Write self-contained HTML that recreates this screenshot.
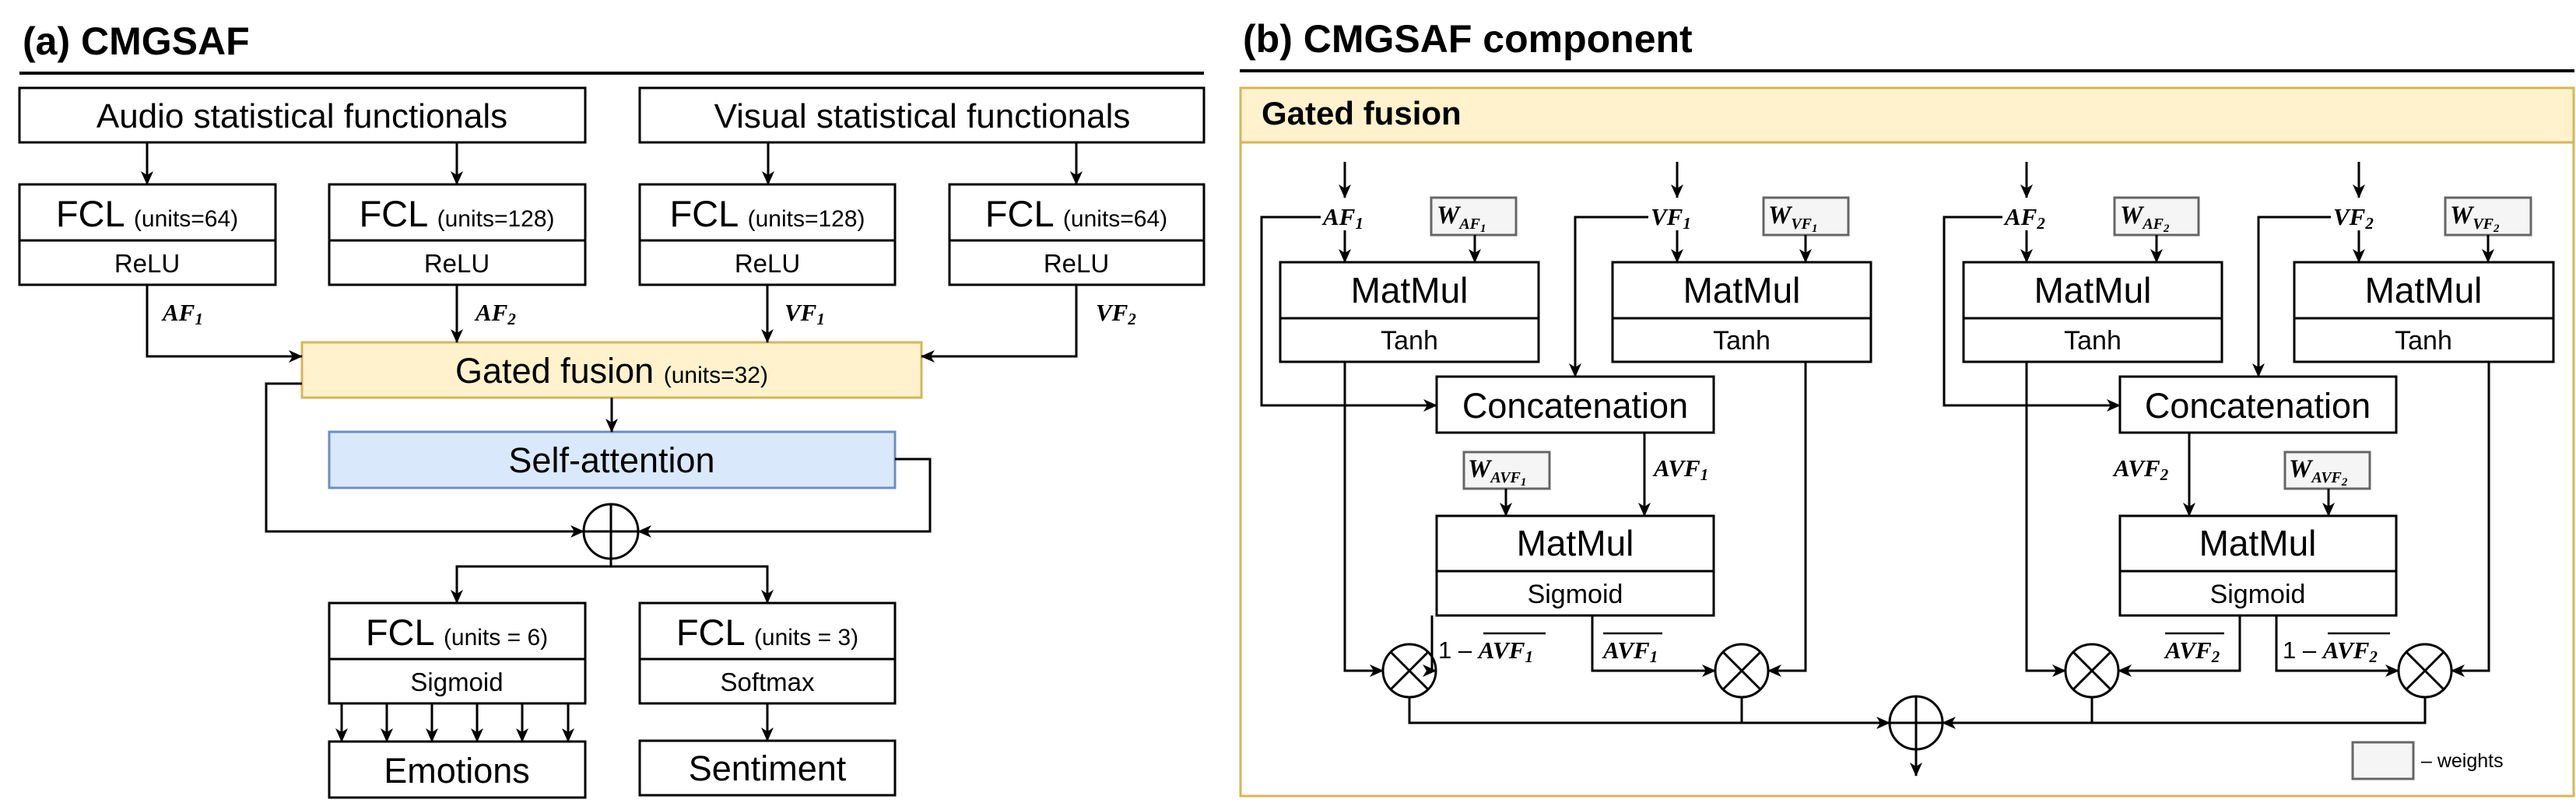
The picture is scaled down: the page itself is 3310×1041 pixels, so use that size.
<!DOCTYPE html>
<html><head><meta charset="utf-8"><style>
html,body{margin:0;padding:0;background:#fff;}
svg{display:block;}
text{font-family:"Liberation Sans",Arial,sans-serif;fill:#000;}
.m{font-family:"Liberation Serif",serif;font-style:italic;font-weight:bold;}
</style></head><body>
<svg width="3310" height="1041" viewBox="0 0 3310 1041" xmlns="http://www.w3.org/2000/svg">
<defs>
<marker id="a" markerWidth="18" markerHeight="16" refX="17" refY="8" orient="auto" markerUnits="userSpaceOnUse"><path d="M0,0 L18,8 L0,16 L5,8z" fill="#000"/></marker>
</defs>
<rect width="3310" height="1041" fill="#fff"/>

<!-- ===== Panel (a) ===== -->
<text x="29" y="70" font-size="50" font-weight="bold">(a) CMGSAF</text>
<line x1="25" y1="94" x2="1547" y2="94" stroke="#000" stroke-width="4"/>

<g fill="#fff" stroke="#000" stroke-width="3">
<rect x="25" y="113" width="727" height="70"/>
<rect x="822" y="113" width="725" height="70"/>
<rect x="25" y="237" width="329" height="129"/><line x1="25" y1="309" x2="354" y2="309"/>
<rect x="423" y="237" width="329" height="129"/><line x1="423" y1="309" x2="752" y2="309"/>
<rect x="822" y="237" width="328" height="129"/><line x1="822" y1="309" x2="1150" y2="309"/>
<rect x="1220" y="237" width="327" height="129"/><line x1="1220" y1="309" x2="1547" y2="309"/>
<rect x="388" y="440" width="796" height="71" fill="#fff2cc" stroke="#d6b656"/>
<rect x="423" y="555" width="727" height="72" fill="#dae8fc" stroke="#6c8ebf"/>
<rect x="423" y="775" width="329" height="129"/><line x1="423" y1="847" x2="752" y2="847"/>
<rect x="822" y="775" width="328" height="129"/><line x1="822" y1="847" x2="1150" y2="847"/>
<rect x="423" y="953" width="329" height="72"/>
<rect x="822" y="952" width="328" height="70"/>
</g>

<g text-anchor="middle">
<text x="388" y="164" font-size="44">Audio statistical functionals</text>
<text x="1185" y="164" font-size="44">Visual statistical functionals</text>
<text x="189" y="291" font-size="47">FCL <tspan font-size="30">(units=64)</tspan></text>
<text x="587" y="291" font-size="47">FCL <tspan font-size="30">(units=128)</tspan></text>
<text x="986" y="291" font-size="47">FCL <tspan font-size="30">(units=128)</tspan></text>
<text x="1383" y="291" font-size="47">FCL <tspan font-size="30">(units=64)</tspan></text>
<text x="189" y="350" font-size="33">ReLU</text>
<text x="587" y="350" font-size="33">ReLU</text>
<text x="986" y="350" font-size="33">ReLU</text>
<text x="1383" y="350" font-size="33">ReLU</text>
<text x="786" y="492" font-size="45">Gated fusion <tspan font-size="30">(units=32)</tspan></text>
<text x="786" y="607" font-size="45">Self-attention</text>
<text x="587" y="829" font-size="47">FCL <tspan font-size="30">(units = 6)</tspan></text>
<text x="986" y="829" font-size="47">FCL <tspan font-size="30">(units = 3)</tspan></text>
<text x="587" y="888" font-size="33">Sigmoid</text>
<text x="986" y="888" font-size="33">Softmax</text>
<text x="587" y="1006" font-size="45">Emotions</text>
<text x="986" y="1003" font-size="45">Sentiment</text>
</g>

<g>
<text class="m" x="209" y="412" font-size="31">AF<tspan font-size="21" dy="5">1</tspan></text>
<text class="m" x="611" y="412" font-size="31">AF<tspan font-size="21" dy="5">2</tspan></text>
<text class="m" x="1008" y="412" font-size="31">VF<tspan font-size="21" dy="5">1</tspan></text>
<text class="m" x="1408" y="412" font-size="31">VF<tspan font-size="21" dy="5">2</tspan></text>
</g>

<g fill="none" stroke="#000" stroke-width="3">
<path d="M189,183V237" marker-end="url(#a)"/>
<path d="M587,183V237" marker-end="url(#a)"/>
<path d="M987,183V237" marker-end="url(#a)"/>
<path d="M1383,183V237" marker-end="url(#a)"/>
<path d="M189,366V458H388" marker-end="url(#a)"/>
<path d="M587,366V440" marker-end="url(#a)"/>
<path d="M986,366V440" marker-end="url(#a)"/>
<path d="M1383,366V458H1184" marker-end="url(#a)"/>
<path d="M786,511V555" marker-end="url(#a)"/>
<path d="M388,493H342V683H750" marker-end="url(#a)"/>
<path d="M1150,590H1195V683H820" marker-end="url(#a)"/>
<circle cx="785" cy="683" r="35"/>
<path d="M785,648V718M750,683H820"/>
<path d="M785,718V728H587V775" marker-end="url(#a)"/>
<path d="M785,728H986V775" marker-end="url(#a)"/>
<path d="M439,904V953" marker-end="url(#a)"/>
<path d="M497,904V953" marker-end="url(#a)"/>
<path d="M555,904V953" marker-end="url(#a)"/>
<path d="M613,904V953" marker-end="url(#a)"/>
<path d="M671,904V953" marker-end="url(#a)"/>
<path d="M730,904V953" marker-end="url(#a)"/>
<path d="M986,904V952" marker-end="url(#a)"/>
</g>

<!-- ===== Panel (b) ===== -->
<text x="1597" y="67" font-size="50" font-weight="bold">(b) CMGSAF component</text>
<line x1="1593" y1="91" x2="3308" y2="91" stroke="#000" stroke-width="4"/>
<rect x="1594" y="113" width="1713" height="910" fill="#fff" stroke="#d6b656" stroke-width="3"/>
<rect x="1594" y="113" width="1713" height="70" fill="#fff2cc" stroke="#d6b656" stroke-width="3"/>
<text x="1621" y="160" font-size="42" font-weight="bold">Gated fusion</text>

<g fill="#fff" stroke="#000" stroke-width="3">
<rect x="1645" y="337" width="332" height="128"/><line x1="1645" y1="409" x2="1977" y2="409"/>
<rect x="2072" y="337" width="332" height="128"/><line x1="2072" y1="409" x2="2404" y2="409"/>
<rect x="1846" y="484" width="356" height="72"/>
<rect x="1846" y="663" width="356" height="128"/><line x1="1846" y1="734" x2="2202" y2="734"/>
<rect x="2523" y="337" width="332" height="128"/><line x1="2523" y1="409" x2="2855" y2="409"/>
<rect x="2948" y="337" width="333" height="128"/><line x1="2948" y1="409" x2="3281" y2="409"/>
<rect x="2724" y="484" width="355" height="72"/>
<rect x="2724" y="663" width="355" height="128"/><line x1="2724" y1="734" x2="3079" y2="734"/>
</g>
<g fill="#f5f5f5" stroke="#666" stroke-width="3">
<rect x="1839" y="254" width="109" height="48"/>
<rect x="2266" y="254" width="109" height="48"/>
<rect x="1881" y="581" width="110" height="47"/>
<rect x="2717" y="254" width="108" height="48"/>
<rect x="3142" y="254" width="110" height="48"/>
<rect x="2936" y="581" width="109" height="47"/>
<rect x="3023" y="954" width="78" height="47"/>
</g>

<g text-anchor="middle">
<text x="1811" y="389" font-size="46">MatMul</text>
<text x="2238" y="389" font-size="46">MatMul</text>
<text x="2689" y="389" font-size="46">MatMul</text>
<text x="3114" y="389" font-size="46">MatMul</text>
<text x="1811" y="449" font-size="34">Tanh</text>
<text x="2238" y="449" font-size="34">Tanh</text>
<text x="2689" y="449" font-size="34">Tanh</text>
<text x="3114" y="449" font-size="34">Tanh</text>
<text x="2024" y="537" font-size="45">Concatenation</text>
<text x="2901" y="537" font-size="45">Concatenation</text>
<text x="2024" y="714" font-size="46">MatMul</text>
<text x="2901" y="714" font-size="46">MatMul</text>
<text x="2024" y="775" font-size="34">Sigmoid</text>
<text x="2901" y="775" font-size="34">Sigmoid</text>
</g>
<text x="3111" y="986" font-size="25">– weights</text>

<g>
<text class="m" x="1700" y="289" font-size="31">AF<tspan font-size="21" dy="5">1</tspan></text>
<text class="m" x="2121" y="289" font-size="31">VF<tspan font-size="21" dy="5">1</tspan></text>
<text class="m" x="2576" y="289" font-size="31">AF<tspan font-size="21" dy="5">2</tspan></text>
<text class="m" x="2998" y="289" font-size="31">VF<tspan font-size="21" dy="5">2</tspan></text>
<text class="m" x="2125" y="612" font-size="31">AVF<tspan font-size="21" dy="5">1</tspan></text>
<text class="m" x="2716" y="612" font-size="31">AVF<tspan font-size="21" dy="5">2</tspan></text>
</g>
<g>
<text class="m" x="1846" y="287" font-size="33" fill="#333">W<tspan font-size="20" dy="7">AF</tspan><tspan font-size="15" dy="4">1</tspan></text>
<text class="m" x="2272" y="287" font-size="33" fill="#333">W<tspan font-size="20" dy="7">VF</tspan><tspan font-size="15" dy="4">1</tspan></text>
<text class="m" x="1886" y="613" font-size="33" fill="#333">W<tspan font-size="20" dy="7">AVF</tspan><tspan font-size="15" dy="4">1</tspan></text>
<text class="m" x="2724" y="287" font-size="33" fill="#333">W<tspan font-size="20" dy="7">AF</tspan><tspan font-size="15" dy="4">2</tspan></text>
<text class="m" x="3148" y="287" font-size="33" fill="#333">W<tspan font-size="20" dy="7">VF</tspan><tspan font-size="15" dy="4">2</tspan></text>
<text class="m" x="2941" y="613" font-size="33" fill="#333">W<tspan font-size="20" dy="7">AVF</tspan><tspan font-size="15" dy="4">2</tspan></text>
</g>

<!-- overline labels -->
<g>
<text x="1848" y="846" font-size="31">1 – <tspan class="m">AVF</tspan><tspan class="m" font-size="21" dy="5">1</tspan></text>
<text class="m" x="2060" y="846" font-size="31">AVF<tspan font-size="21" dy="5">1</tspan></text>
<text class="m" x="2782" y="846" font-size="31">AVF<tspan font-size="21" dy="5">2</tspan></text>
<text x="2933" y="846" font-size="31">1 – <tspan class="m">AVF</tspan><tspan class="m" font-size="21" dy="5">2</tspan></text>
</g>
<g stroke="#000" stroke-width="2.5">
<line x1="1906" y1="814" x2="1986" y2="814"/>
<line x1="2060" y1="814" x2="2136" y2="814"/>
<line x1="2782" y1="814" x2="2858" y2="814"/>
<line x1="2991" y1="814" x2="3071" y2="814"/>
</g>

<g fill="none" stroke="#000" stroke-width="3">
<!-- left group -->
<path d="M1728,208V254" marker-end="url(#a)"/>
<path d="M1728,296V337" marker-end="url(#a)"/>
<path d="M2155,208V254" marker-end="url(#a)"/>
<path d="M2155,296V337" marker-end="url(#a)"/>
<path d="M1895,302V337" marker-end="url(#a)"/>
<path d="M2320,302V337" marker-end="url(#a)"/>
<path d="M1697,279H1621V521H1846" marker-end="url(#a)"/>
<path d="M2118,279H2024V484" marker-end="url(#a)"/>
<path d="M2113,556V663" marker-end="url(#a)"/>
<path d="M1935,628V663" marker-end="url(#a)"/>
<path d="M1728,465V862H1777" marker-end="url(#a)"/>
<path d="M1840,791V862H1845" marker-end="url(#a)"/>
<path d="M2046,791V862H2204" marker-end="url(#a)"/>
<path d="M2320,465V862H2272" marker-end="url(#a)"/>
<!-- right group -->
<path d="M2604,208V254" marker-end="url(#a)"/>
<path d="M2604,296V337" marker-end="url(#a)"/>
<path d="M3031,208V254" marker-end="url(#a)"/>
<path d="M3031,296V337" marker-end="url(#a)"/>
<path d="M2771,302V337" marker-end="url(#a)"/>
<path d="M3197,302V337" marker-end="url(#a)"/>
<path d="M2573,279H2498V521H2724" marker-end="url(#a)"/>
<path d="M2995,279H2902V484" marker-end="url(#a)"/>
<path d="M2813,556V663" marker-end="url(#a)"/>
<path d="M2992,628V663" marker-end="url(#a)"/>
<path d="M2604,465V862H2654" marker-end="url(#a)"/>
<path d="M2878,791V862H2722" marker-end="url(#a)"/>
<path d="M2925,791V862H3082" marker-end="url(#a)"/>
<path d="M3198,465V862H3150" marker-end="url(#a)"/>
<!-- circles -->
<circle cx="1811" cy="862" r="34"/>
<path d="M1787,838L1835,886M1835,838L1787,886"/>
<circle cx="2238" cy="862" r="34"/>
<path d="M2214,838L2262,886M2262,838L2214,886"/>
<circle cx="2688" cy="862" r="34"/>
<path d="M2664,838L2712,886M2712,838L2664,886"/>
<circle cx="3116" cy="862" r="34"/>
<path d="M3092,838L3140,886M3140,838L3092,886"/>
<circle cx="2462" cy="929" r="34"/>
<path d="M2462,895V963M2428,929H2496"/>
<path d="M1811,896V929H2428" marker-end="url(#a)"/>
<path d="M2238,896V929"/>
<path d="M3116,896V929H2496" marker-end="url(#a)"/>
<path d="M2688,896V929"/>
<path d="M2462,963V997" marker-end="url(#a)"/>
</g>
</svg>
</body></html>
